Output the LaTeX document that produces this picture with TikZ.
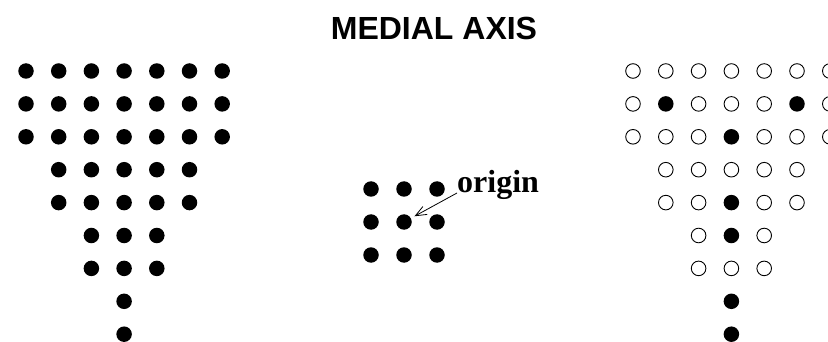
\documentclass[tikz,border=0pt]{standalone}
\usepackage{fontspec}
\setmainfont{Liberation Serif}
\newfontfamily\headfont{Liberation Sans}
\usetikzlibrary{arrows.meta, positioning}

\begin{document}
\begin{tikzpicture}[x=1pt, y=-1pt,
    dot/.style={circle, fill=black, minimum size=15.5pt, inner sep=0pt},
    ring/.style={circle, draw=black, line width=0.9pt, minimum size=14.6pt, inner sep=0pt}]
  \useasboundingbox (0,0) rectangle (828,342);
  \node[font=\headfont\bfseries\fontsize{32}{36}\selectfont, anchor=base] (title)
    at (434,40) {MEDIAL AXIS};
  % left shape: all points
  \foreach \r/\a/\b in {1/1/7, 2/1/7, 3/1/7, 4/2/6, 5/2/6, 6/3/5, 7/3/5, 8/4/4, 9/4/4}
    \foreach \c in {\a,...,\b}
      \node[dot] (L-\r-\c) at ({26+32.7*(\c-1)}, {71+32.9*(\r-1)}) {};
  % structuring element
  \foreach \r in {1,2,3}
    \foreach \c in {1,2,3}
      \node[dot] (M-\r-\c) at ({371+33*(\c-1)}, {189+33*(\r-1)}) {};
  \node[font=\bfseries\fontsize{32}{36}\selectfont, inner sep=0pt, anchor=base west] (lbl)
    at (457,193) {origin};
  \draw[-{Straight Barb[length=11pt, width=9pt]}, line width=0.8pt, shorten >=4pt]
    (lbl.base west) -- (M-2-2);
  % right shape: axis points filled
  \foreach \r/\a/\b/\f/\g in {1/1/7/0/0, 2/1/7/2/6, 3/1/7/4/0, 4/2/6/0/0, 5/2/6/4/0,
                              6/3/5/4/0, 7/3/5/0/0, 8/4/4/4/0, 9/4/4/4/0}
    \foreach \c in {\a,...,\b} {
      \def\kind{ring}
      \ifnum\c=\f \def\kind{dot}\fi
      \ifnum\c=\g \def\kind{dot}\fi
      \node[\kind] (R-\r-\c) at ({633+32.8*(\c-1)}, {71+32.9*(\r-1)}) {};
    }
\end{tikzpicture}
\end{document}
